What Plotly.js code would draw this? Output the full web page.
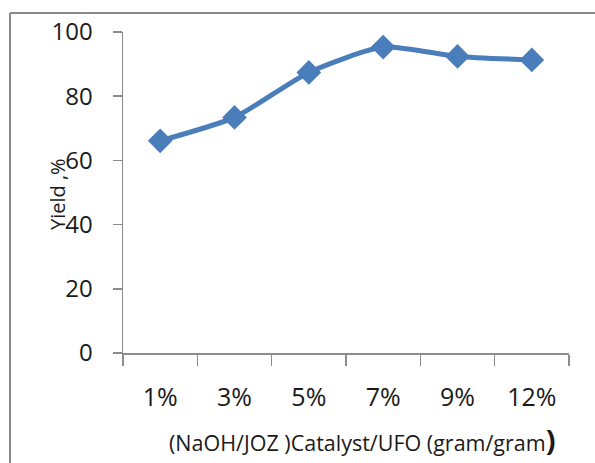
<!DOCTYPE html>
<html>
<head>
<meta charset="utf-8">
<script src="https://cdn.plot.ly/plotly-3.0.1.min.js"></script>
<style>
html,body{margin:0;padding:0;background:#fff;}
#chart{width:595px;height:463px;}
</style>
</head>
<body>
<div id="chart"></div>
<script>
const categories = ["1%", "3%", "5%", "7%", "9%", "12%"];
const yieldValues = [66.1, 73.4, 87.4, 95.3, 92.4, 91.3];
const yTicks = [0, 20, 40, 60, 80, 100];
const xTitle = "(NaOH/JOZ )Catalyst/UFO (gram/gram";
const yTitle = "Yield ,%";

const W = 595, H = 463;
const M = {l: 123, r: 26, t: 32, b: 110};
const pw = W - M.l - M.r, ph = H - M.t - M.b;
function px2paperX(px){ return (px - M.l) / pw; }
function px2paperY(py){ return (H - M.b - py) / ph; }

const trace = {
  x: categories,
  y: yieldValues,
  type: "scatter",
  mode: "lines+markers",
  line: {color: "#4a7ebb", width: 5, shape: "spline", smoothing: 0.6},
  marker: {symbol: "diamond", size: 19, color: "#4a7ebb"},
  hoverinfo: "none"
};

const font = "'Open Sans', 'Noto Sans', sans-serif";
const layout = {
  width: W, height: H,
  margin: M,
  paper_bgcolor: "#fff",
  plot_bgcolor: "#fff",
  showlegend: false,
  font: {family: font, color: "#1a1a1a"},
  xaxis: {
    type: "category",
    range: [-0.5, 5.5],
    tickson: "boundaries",
    ticks: "outside",
    ticklen: 11,
    tickcolor: "#8c8c8c",
    tickwidth: 1.5,
    showline: true,
    linecolor: "#8c8c8c",
    linewidth: 1.5,
    showgrid: false,
    zeroline: false,
    tickfont: {size: 25, family: font, color: "#1a1a1a"},
    ticklabelstandoff: 21,
    fixedrange: true
  },
  yaxis: {
    range: [0, 100],
    tickvals: yTicks,
    ticktext: yTicks.map(String),
    ticks: "outside",
    ticklen: 9,
    tickcolor: "#8c8c8c",
    tickwidth: 1.5,
    showline: true,
    linecolor: "#8c8c8c",
    linewidth: 1.5,
    showgrid: false,
    zeroline: false,
    tickfont: {size: 24, family: font, color: "#1a1a1a"},
    ticklabelstandoff: 15,
    fixedrange: true
  },
  annotations: [
    {
      xref: "paper", yref: "paper",
      x: px2paperX(362), y: px2paperY(439),
      xanchor: "center", yanchor: "middle",
      text: xTitle + "<b><span style='font-size:29px'>)</span></b>",
      showarrow: false,
      font: {size: 21.5, family: font, color: "#1a1a1a"}
    },
    {
      xref: "paper", yref: "paper",
      x: px2paperX(57), y: px2paperY(194),
      xanchor: "center", yanchor: "middle",
      text: yTitle,
      textangle: -90,
      showarrow: false,
      font: {size: 20, family: font, color: "#1a1a1a"}
    }
  ],
  shapes: [
    {
      type: "line", xref: "paper", yref: "paper",
      x0: px2paperX(10), x1: px2paperX(10),
      y0: px2paperY(13), y1: px2paperY(480),
      line: {color: "#8a8a8a", width: 2}
    },
    {
      type: "line", xref: "paper", yref: "paper",
      x0: px2paperX(10), x1: px2paperX(610),
      y0: px2paperY(13), y1: px2paperY(13),
      line: {color: "#8a8a8a", width: 2}
    }
  ]
};

Plotly.newPlot("chart", [trace], layout, {displayModeBar: false, staticPlot: true});
</script>
</body>
</html>
